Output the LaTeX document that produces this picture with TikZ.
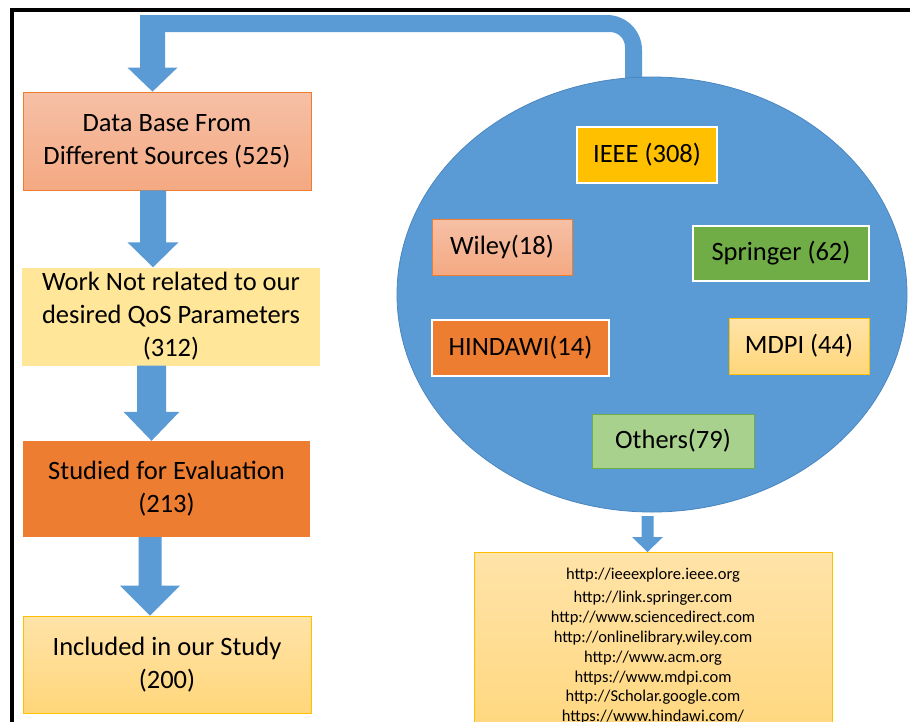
\documentclass[tikz,border=0pt]{standalone}
\usepackage{fontspec}
\setmainfont{Carlito}
\usetikzlibrary{calc,shapes.geometric}
\definecolor{ablue}{HTML}{5B9BD5}
\definecolor{ablueline}{HTML}{4A86C0}
\definecolor{corange}{HTML}{ED7D31}
\definecolor{cgold}{HTML}{FFC000}
\definecolor{cgreen}{HTML}{70AD47}
\definecolor{clgreen}{HTML}{A9D18E}
\definecolor{clyellow}{HTML}{FFE699}
\definecolor{salmontop}{HTML}{F6C0A6}
\definecolor{salmonbot}{HTML}{F4A982}
\definecolor{goldtop}{HTML}{FFE3A8}
\definecolor{goldbot}{HTML}{FFD67A}
\newcommand{\blockarrow}[5]{%
  \fill[arrowsty] let \p1=(#1), \p2=(#2) in
  (\x1-#3pt,\y1) -- (\x1+#3pt,\y1) -- (\x1+#3pt,\y2+#5pt) -- (\x1+#4pt,\y2+#5pt)
  -- (\x1,\y2) -- (\x1-#4pt,\y2+#5pt) -- (\x1-#3pt,\y2+#5pt) -- cycle;}
\begin{document}
\begin{tikzpicture}[x=1pt,y=-1pt,
  arrowsty/.style={fill=ablue},
  bigtext/.style={font=\fontsize{26.5}{33}\selectfont, align=center, text=black},
  flowbox/.style={rectangle, inner sep=0pt, minimum width=#1},
  salmonbox/.style={top color=salmontop, bottom color=salmonbot, draw=corange, line width=0.8pt},
  goldbox/.style={top color=goldtop, bottom color=goldbot, draw=cgold, line width=0.8pt},
  whiteedge/.style={draw=white, line width=1.2pt},
  srcbox/.style={rectangle, inner sep=0pt, font=\fontsize{26.5}{30}\selectfont, text=black}
]
\useasboundingbox (0,0) rectangle (910,721);
\clip (0,0) rectangle (910,721);
\fill[white] (0,0) rectangle (910,721);

% frame
\draw[black, line width=4pt] (10,10) -- (912,10);
\draw[black, line width=4pt] (11.5,8) -- (11.5,725);

% left column boxes
\node[flowbox=288, minimum height=98, salmonbox, bigtext] (b1) at (167,141) {Data Base From\\Different Sources (525)};
\node[flowbox=298, minimum height=98, fill=clyellow, bigtext] (b2) at (171,316.5) {Work Not related to our\\desired QoS Parameters\\(312)};
\node[flowbox=287, minimum height=96, fill=corange, bigtext] (b3) at (166.5,489) {Studied for Evaluation\\(213)};
\node[flowbox=288, minimum height=97, goldbox, bigtext] (b4) at (167,664.5) {Included in our Study\\(200)};

% circle of sources (node first so connectors can refer to it)
\node[ellipse, minimum width=510, minimum height=435, inner sep=0pt] (src) at (652,294.5) {};

% top connector bar from the circle to the first box
\coordinate (cx1) at (642,0);
\coordinate (cx2) at (625,0);
\fill[ablue] ($(cx2 |- src.north)+(0,4)$) -- (625,47) .. controls (625,38.7) and (618.3,32) .. (610,32)
  -- (140,32) -- (140,15) -- (607,15) .. controls (626.3,15) and (642,30.7) .. (642,50)
  -- ($(cx1 |- src.north)+(0,4)$) -- cycle;

\coordinate (a1) at (152.5,20);
\coordinate (a2) at (153,0);
\coordinate (a3) at (151.5,0);
\coordinate (a4) at (150,0);
\blockarrow{a1}{a1 |- b1.north}{12.5}{25}{24}
\blockarrow{a2 |- b1.south}{a2 |- b2.north}{13}{25.5}{25}
\blockarrow{a3 |- b2.south}{a3 |- b3.north}{14.5}{28}{29}
\blockarrow{a4 |- b3.south}{a4 |- b4.north}{11.5}{30}{30}

% circle drawn over the connector end
\node[ellipse, minimum width=510, minimum height=435, inner sep=0pt, fill=ablue, draw=ablueline, line width=0.8pt] at (src) {};

% source boxes
\node[srcbox, minimum width=140, minimum height=56, fill=cgold, whiteedge] (ieee) at (647,155) {IEEE (308)};
\node[srcbox, minimum width=140, minimum height=56, salmonbox] (wiley) at (502,247) {Wiley(18)};
\node[srcbox, minimum width=176, minimum height=55, fill=cgreen, whiteedge] (springer) at (781,253.5) {Springer (62)};
\node[srcbox, minimum width=177, minimum height=56, fill=corange, whiteedge] (hindawi) at (520.5,348) {HINDAWI(14)};
\node[srcbox, minimum width=140, minimum height=56, goldbox] (mdpi) at (799,346) {MDPI (44)};
\node[srcbox, minimum width=162, minimum height=54, fill=clgreen, draw=cgreen, line width=0.8pt] (others) at (673,441) {Others(79)};

% URL box
\node[rectangle, inner sep=0pt, minimum width=358, minimum height=200, anchor=north, goldbox] (urls) at (653,552) {};
\node[anchor=north, inner sep=0pt, align=center, font=\fontsize{16.5}{19.8}\selectfont] (urltext) at (653,567.5)
  {http://ieeexplore.ieee.org\\[4pt]
   http://link.springer.com\\
   http://www.sciencedirect.com\\
   http://onlinelibrary.wiley.com\\
   http://www.acm.org\\
   https://www.mdpi.com\\
   http://Scholar.google.com\\
   https://www.hindawi.com/};

\coordinate (a5) at (647.5,0);
\blockarrow{$(a5 |- src.south)+(0,4)$}{a5 |- urls.north}{6}{15.5}{15}
\end{tikzpicture}
\end{document}
